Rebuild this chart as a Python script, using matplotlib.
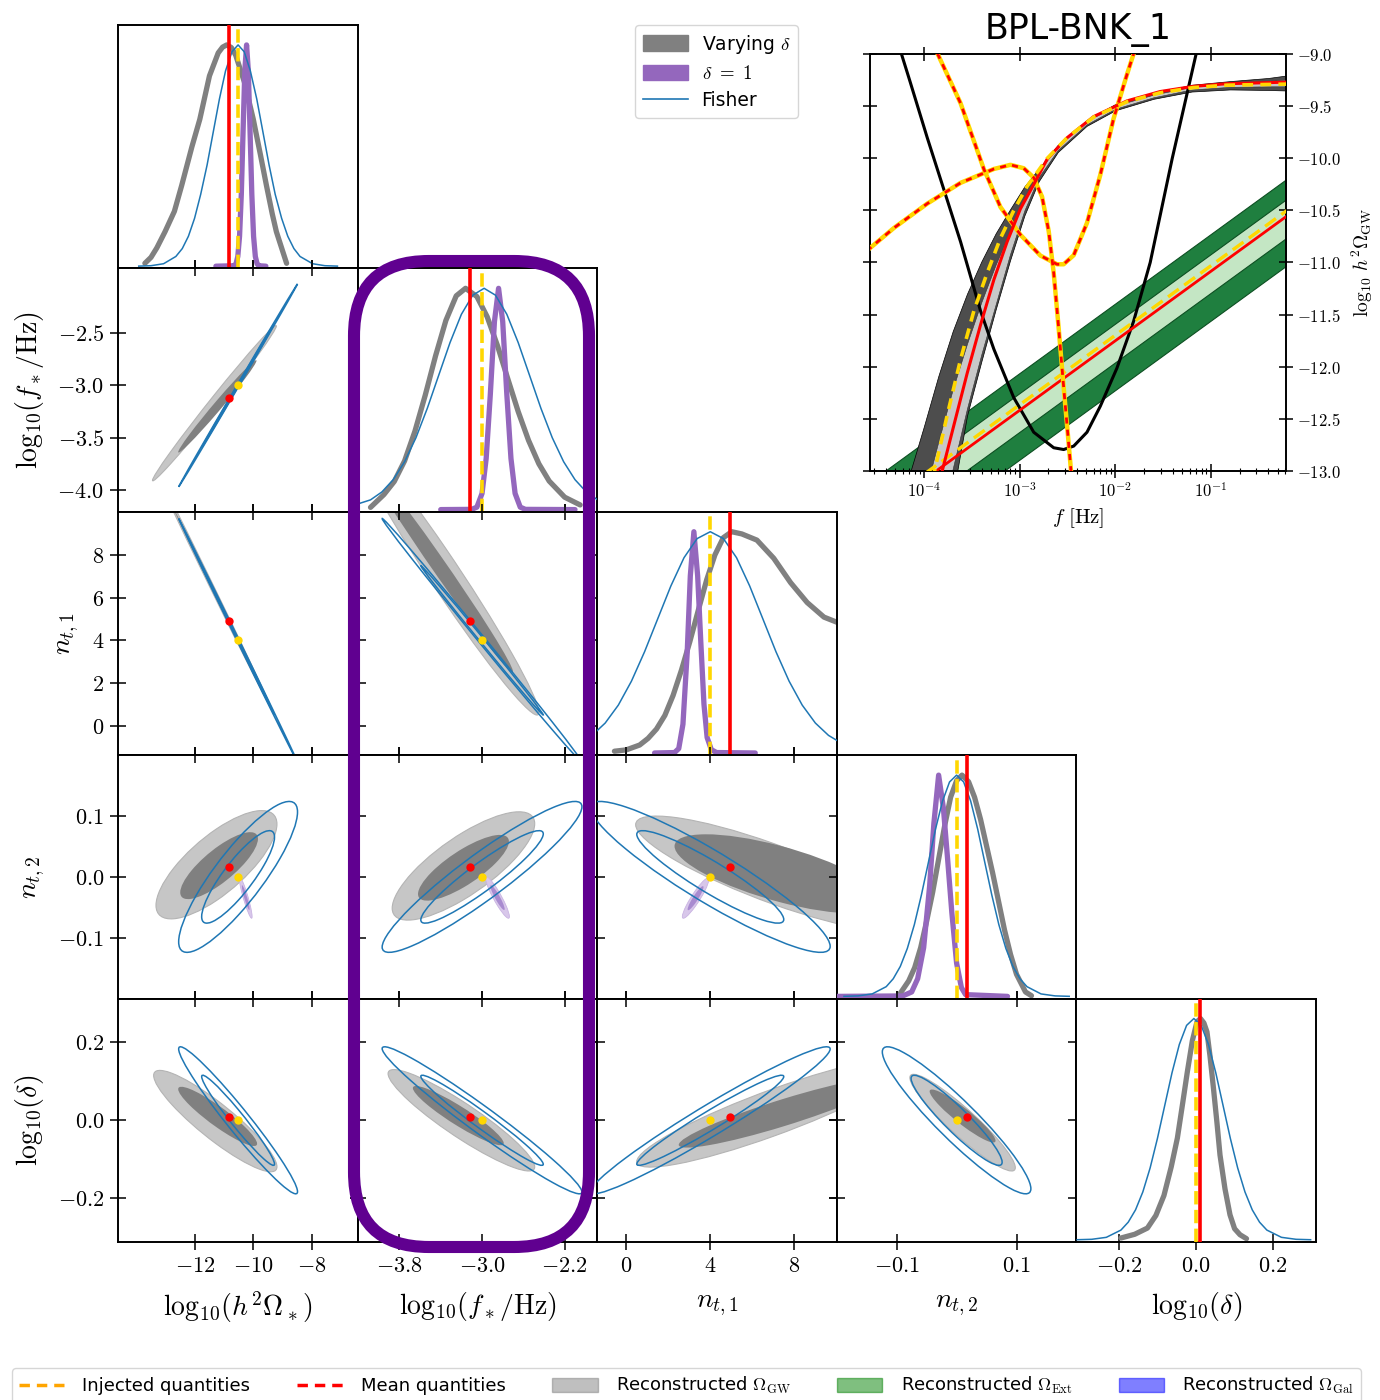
import numpy as np
import matplotlib
matplotlib.use("Agg")
import matplotlib.pyplot as plt
from matplotlib.patches import Ellipse, Patch, FancyBboxPatch
from matplotlib.lines import Line2D
from matplotlib.transforms import Affine2D, IdentityTransform
from matplotlib.ticker import FixedLocator, FormatStrFormatter, FuncFormatter, NullFormatter, LogLocator

# ======================= DATA =======================
param_labels = [r"$\mathrm{log}_{10}(h^2\Omega_*)$", r"$\mathrm{log}_{10}(f_*/{\rm Hz})$",
                r"$n_{t,1}$", r"$n_{t,2}$", r"$\mathrm{log}_{10}(\delta)$"]
param_xticks = [[-12, -10, -8], [-3.8, -3.0, -2.2], [0, 4, 8], [-0.1, 0.1], [-0.2, 0.0, 0.2]]
param_yticks = [None, [-4.0, -3.5, -3.0, -2.5], [0, 2, 4, 6, 8], [-0.1, 0.0, 0.1], [-0.2, 0.0, 0.2]]
tick_fmt = ["$%d$", "$%.1f$", "$%d$", "$%.1f$", "$%.1f$"]

injected = [-10.52, -3.0, 4.0, 0.0, 0.0]
mean_vals = [-10.84, -3.12, 4.92, 0.017, 0.009]

# Fisher forecast (per-parameter sigma, per-pair correlation)
fisher_sigma = [0.82, 0.39, 2.3, 0.050, 0.076]
pair_x = [0, 0, 1, 0, 1, 2, 0, 1, 2, 3]
pair_y = [1, 2, 2, 3, 3, 3, 4, 4, 4, 4]
fisher_rho = [0.9998, -0.9998, -0.999, 0.86, 0.93, -0.92, -0.97, -0.975, 0.97, -0.93]

# Varying-delta posterior contours (95% and 68%), per pair: centre, half-extent, correlation
post95_cx = [-11.33, -11.5, -3.35, -11.26, -3.18, 7.0, -11.3, -3.2, 7.0, 0.01]
post95_cy = [-3.17, 6.74, 7.0, 0.02, 0.018, 0.005, -0.002, 0.0, 0.02, -0.006]
post95_hx = [2.12, 2.0, 0.9, 2.07, 0.69, 6.55, 2.11, 0.71, 6.5, 0.088]
post95_hy = [0.74, 5.6, 6.5, 0.089, 0.089, 0.095, 0.13, 0.13, 0.14, 0.124]
post95_rho = [0.994, -0.9993, -0.98, 0.75, 0.78, -0.85, -0.9, -0.92, 0.9, -0.93]

post68_cx = [-11.23, -11.3, -3.42, -11.17, -3.18, 7.3, -11.22, -3.23, 7.5, 0.01]
post68_cy = [-3.2, 6.18, 7.5, 0.0185, 0.015, 0.005, 0.01, 0.012, 0.02, 0.011]
post68_hx = [1.34, 1.4, 0.72, 1.33, 0.44, 5.0, 1.35, 0.44, 5.0, 0.055]
post68_hy = [0.44, 3.9, 5.0, 0.055, 0.054, 0.065, 0.076, 0.076, 0.09, 0.068]
post68_rho = [0.99, -0.9995, -0.993, 0.8, 0.8, -0.7, -0.92, -0.93, 0.92, -0.93]

# delta = 1 posterior contours (only n_t,2 row)
d1_pair_x = [0, 1, 2]
d1_cx = [-10.26, -2.85, 3.3]
d1_cy = [-0.034, -0.034, -0.035]
d1_hx = [0.22, 0.115, 0.63]
d1_hy = [0.034, 0.034, 0.033]
d1_rho = [-0.92, -0.92, 0.92]

# 1D marginals (heights relative to peak)
fisher_profile = [0.0003, 0.0022, 0.0111, 0.0439, 0.0796, 0.1353, 0.2163, 0.3247, 0.4578, 0.6065,
                  0.7548, 0.8825, 0.969, 1.0, 0.969, 0.8825, 0.7548, 0.6065, 0.4578, 0.3247,
                  0.2163, 0.1353, 0.0796, 0.0439, 0.0111, 0.0022, 0.0003]

fisher0_x = [-13.92, -13.50, -13.07, -12.65, -12.43, -12.22, -12.01, -11.80, -11.58, -11.37, -11.16, -10.95, -10.73,
             -10.52, -10.31, -10.10, -9.88, -9.67, -9.46, -9.25, -9.03, -8.82, -8.61, -8.40, -7.97, -7.55, -7.12]
fisher1_x = [-4.74, -4.52, -4.30, -4.08, -3.97, -3.86, -3.75, -3.64, -3.53, -3.42, -3.31, -3.20, -3.09,
             -2.98, -2.87, -2.76, -2.65, -2.54, -2.43, -2.32, -2.21, -2.10, -1.99, -1.88, -1.66, -1.44, -1.22]
fisher2_x = [-6.0, -4.75, -3.5, -2.25, -1.625, -1.0, -0.375, 0.25, 0.875, 1.5, 2.125, 2.75, 3.375,
             4.0, 4.625, 5.25, 5.875, 6.5, 7.125, 7.75, 8.375, 9.0, 9.625, 10.25, 11.5, 12.75, 14.0]
fisher3_x = [-0.188, -0.1645, -0.141, -0.1175, -0.1058, -0.094, -0.0823, -0.0705, -0.0588, -0.047, -0.0353, -0.0235, -0.0118,
             0.0, 0.0118, 0.0235, 0.0353, 0.047, 0.0588, 0.0705, 0.0823, 0.094, 0.1058, 0.1175, 0.141, 0.1645, 0.188]
fisher4_x = [-0.310, -0.272, -0.234, -0.196, -0.177, -0.158, -0.139, -0.120, -0.101, -0.082, -0.063, -0.044, -0.025,
             -0.006, 0.013, 0.032, 0.051, 0.070, 0.089, 0.108, 0.127, 0.146, 0.165, 0.184, 0.222, 0.260, 0.298]

vary0_x = [-13.71, -13.5, -13.3, -13.02, -12.7, -12.45, -12.1, -11.83, -11.5, -11.2, -11.05, -10.91, -10.75, -10.6,
           -10.3, -10.0, -9.75, -9.55, -9.35, -9.21, -9.0, -8.86]
vary0_y = [0.013, 0.04, 0.083, 0.156, 0.248, 0.365, 0.54, 0.664, 0.86, 0.964, 0.99, 1.0, 0.988, 0.953,
           0.83, 0.664, 0.50, 0.365, 0.236, 0.156, 0.07, 0.013]
vary1_x = [-4.08, -3.95, -3.85, -3.75, -3.65, -3.55, -3.45, -3.35, -3.25, -3.16, -3.05, -2.95, -2.85, -2.75, -2.65, -2.55, -2.45, -2.35, -2.2, -2.05]
vary1_y = [0.01, 0.068, 0.127, 0.22, 0.354, 0.517, 0.695, 0.855, 0.966, 1.0, 0.963, 0.871, 0.74, 0.59, 0.443, 0.313, 0.207, 0.129, 0.056, 0.021]
vary2_x = [-0.56, 0.0, 0.64, 1.04, 1.44, 1.84, 2.23, 2.63, 3.03, 3.43, 3.83, 4.22, 4.62, 5.02, 5.5, 6.22, 7.02, 7.82, 8.61, 9.41, 10.05]
vary2_y = [0.008, 0.014, 0.036, 0.066, 0.108, 0.17, 0.26, 0.375, 0.504, 0.645, 0.783, 0.895, 0.973, 1.0, 0.99, 0.962, 0.88, 0.77, 0.68, 0.614, 0.59]
vary3_x = [-0.095, -0.08, -0.07, -0.06, -0.05, -0.04, -0.03, -0.02, -0.01, 0.0, 0.009, 0.02, 0.03, 0.04, 0.05, 0.06, 0.07, 0.08, 0.09, 0.10, 0.115, 0.125]
vary3_y = [0.01, 0.07, 0.13, 0.22, 0.34, 0.47, 0.62, 0.77, 0.90, 0.975, 1.0, 0.97, 0.90, 0.80, 0.68, 0.56, 0.43, 0.30, 0.19, 0.10, 0.02, 0.003]
vary4_x = [-0.196, -0.16, -0.127, -0.105, -0.084, -0.065, -0.049, -0.035, -0.023, -0.01, 0.002, 0.011, 0.02,
           0.028, 0.036, 0.045, 0.054, 0.062, 0.075, 0.088, 0.1, 0.114, 0.131]
vary4_y = [0.008, 0.025, 0.053, 0.11, 0.2, 0.33, 0.46, 0.62, 0.76, 0.9, 0.985, 1.0, 0.98,
           0.94, 0.83, 0.684, 0.53, 0.383, 0.23, 0.113, 0.05, 0.023, 0.005]

delta1_0_x = [-11.28, -10.65, -10.59, -10.53, -10.47, -10.41, -10.35, -10.29, -10.23, -10.17, -10.11, -10.05, -9.99, -9.93, -9.87, -9.81, -9.57]
delta1_0_y = [0, 0.002, 0.011, 0.044, 0.135, 0.325, 0.607, 0.883, 1.0, 0.883, 0.607, 0.325, 0.135, 0.044, 0.011, 0.002, 0]
delta1_1_x = [-3.4, -3.1, -3.05, -3.0, -2.96, -2.92, -2.88, -2.84, -2.80, -2.76, -2.72, -2.68, -2.63, -2.58, -2.1]
delta1_1_y = [0, 0.001, 0.011, 0.073, 0.231, 0.52, 0.85, 1.0, 0.85, 0.52, 0.231, 0.073, 0.011, 0.001, 0]
delta1_2_x = [1.35, 2.3, 2.5, 2.7, 2.9, 3.05, 3.22, 3.4, 3.55, 3.7, 3.85, 4.05, 4.3, 6.14]
delta1_2_y = [0, 0.002, 0.02, 0.13, 0.45, 0.8, 1.0, 0.8, 0.5, 0.22, 0.07, 0.015, 0.002, 0]
delta1_3_x = [-0.2, -0.09, -0.075, -0.065, -0.055, -0.045, -0.038, -0.03, -0.022, -0.015, -0.008, 0.0, 0.008, 0.015, 0.085]
delta1_3_y = [0, 0.002, 0.02, 0.08, 0.22, 0.5, 0.78, 1.0, 0.85, 0.62, 0.38, 0.15, 0.04, 0.008, 0]

# ---- inset spectrum (log10 f, log10 h^2 Omega) ----
sens_a_logf = [-4.278, -4.15, -3.965, -3.756, -3.617, -3.408, -3.269, -3.061, -2.852, -2.643, -2.539, -2.434,
               -2.295, -2.156, -1.982, -1.808, -1.634, -1.404, -1.154, -1.077]
sens_a_logO = [-8.874, -9.25, -9.804, -10.402, -10.801, -11.465, -11.831, -12.296, -12.628, -12.777, -12.794, -12.761,
               -12.628, -12.379, -12.013, -11.565, -11.0, -10.003, -9.0, -8.774]
curve_c_logf = [-3.90, -3.861, -3.617, -3.374, -3.2, -2.991, -2.782, -2.608, -2.539, -2.434, -2.295, -2.156, -2.017, -1.878, -1.756, -1.72]
curve_c_logO = [-8.88, -8.99, -9.472, -10.103, -10.468, -10.734, -10.934, -11.017, -11.017, -10.93, -10.62, -10.16, -9.62, -9.2, -8.85, -8.75]
curve_d_logf = [-4.6, -4.313, -3.965, -3.617, -3.269, -3.095, -2.956, -2.852, -2.765, -2.695, -2.643, -2.591, -2.539, -2.497, -2.462, -2.44]
curve_d_logO = [-10.89, -10.668, -10.435, -10.236, -10.103, -10.063, -10.096, -10.186, -10.369, -10.701, -11.1, -11.631, -12.196, -12.628, -13.0, -13.3]
sig_inj_logf = [-3.95, -3.889, -3.756, -3.617, -3.478, -3.339, -3.2, -3.061, -2.921, -2.713, -2.504, -2.225, -1.878, -1.530, -1.182, -0.834, -0.214]
sig_inj_logO = [-13.25, -13.0, -12.462, -11.930, -11.465, -11.1, -10.767, -10.502, -10.269, -10.003, -9.804, -9.605, -9.458, -9.372, -9.322, -9.299, -9.289]
sig_mean_logf = [-3.85, -3.809, -3.687, -3.548, -3.408, -3.269, -3.130, -2.991, -2.852, -2.713, -2.504, -2.225, -1.878, -1.530, -1.182, -0.834, -0.214]
sig_mean_logO = [-13.15, -13.0, -12.561, -12.063, -11.598, -11.166, -10.801, -10.485, -10.252, -10.01, -9.804, -9.60, -9.45, -9.36, -9.31, -9.285, -9.27]
band_logf = [-4.15, -4.0, -3.85, -3.7, -3.55, -3.4, -3.25, -3.1, -2.95, -2.8, -2.6, -2.3, -2.0, -1.6, -1.2, -0.8, -0.4, -0.2]
band_hi95 = [-13.03, -12.57, -12.09, -11.66, -11.30, -10.99, -10.72, -10.49, -10.27, -10.10, -9.87, -9.635, -9.48, -9.375, -9.295, -9.26, -9.23, -9.205]
band_hi68 = [-13.75, -13.25, -12.72, -12.22, -11.78, -11.38, -11.02, -10.70, -10.38, -10.13, -9.88, -9.645, -9.495, -9.39, -9.315, -9.28, -9.26, -9.245]
band_lo68 = [-14.9, -14.3, -13.6, -12.98, -12.40, -11.88, -11.40, -10.92, -10.50, -10.18, -9.92, -9.675, -9.525, -9.415, -9.34, -9.315, -9.31, -9.31]
band_lo95 = [-15.4, -14.7, -13.95, -13.25, -12.47, -11.95, -11.45, -10.98, -10.55, -10.22, -9.94, -9.69, -9.54, -9.43, -9.36, -9.34, -9.345, -9.35]
ext_logf = [-5.0, 0.0]
ext_mean = [-13.752, -10.418]
ext_inj = [-13.699, -10.365]
ext_hi68 = [-13.586, -10.252]
ext_lo68 = [-13.958, -10.624]
ext_hi95 = [-13.394, -10.06]
ext_lo95 = [-14.224, -10.89]

# ======================= STYLE / LAYOUT =======================
plt.rcParams["mathtext.fontset"] = "cm"
plt.rcParams["font.family"] = ["DejaVu Sans"]

W, H = 1380, 1400
fig = plt.figure(figsize=(W / 100, H / 100), dpi=100)
fig.patch.set_facecolor("white")

GRAY1D = "#808080"
PURPLE = "#9467bd"
BLUE = "#1f77b4"
RED = "#ff0000"
GOLD = "#ffd700"

lims = [(-14.63, -6.43), (-4.205, -1.885), (-1.38, 10.02), (-0.2, 0.2), (-0.312, 0.312)]
col_x0, col_w = 118.0, 239.6
row_y0, row_h = 25.0, 243.4
K68, K95 = 1.52, 2.48


def add_cov_ellipse(ax, cx, cy, hx, hy, rho, **kw):
    e = Ellipse((0, 0), 2, 2, **kw)
    m = np.array([[hx, 0.0, cx], [hy * rho, hy * np.sqrt(1 - rho ** 2), cy], [0, 0, 1]])
    e.set_transform(Affine2D(m) + ax.transData)
    ax.add_patch(e)


axes = {}
for i in range(5):
    for j in range(i + 1):
        left = col_x0 + j * col_w
        top = row_y0 + i * row_h
        ax = fig.add_axes([left / W, 1 - (top + row_h) / H, col_w / W, row_h / H])
        ax.set_autoscale_on(False)
        for s in ax.spines.values():
            s.set_linewidth(1.4)
        axes[(i, j)] = ax

# ---- 1D panels ----
vary_x = [vary0_x, vary1_x, vary2_x, vary3_x, vary4_x]
vary_y = [vary0_y, vary1_y, vary2_y, vary3_y, vary4_y]
fish_x = [fisher0_x, fisher1_x, fisher2_x, fisher3_x, fisher4_x]
d1_x = [delta1_0_x, delta1_1_x, delta1_2_x, delta1_3_x, None]
d1_y = [delta1_0_y, delta1_1_y, delta1_2_y, delta1_3_y, None]

for k in range(5):
    ax = axes[(k, k)]
    ax.plot(vary_x[k], vary_y[k], color=GRAY1D, lw=3.8, solid_capstyle="round", solid_joinstyle="round", zorder=2)
    if d1_x[k] is not None:
        ax.plot(d1_x[k], d1_y[k], color=PURPLE, lw=3.8, solid_capstyle="round", solid_joinstyle="round", zorder=3)
    ax.plot(fish_x[k], fisher_profile, color=BLUE, lw=1.1, zorder=4)
    ax.axvline(mean_vals[k], color=RED, lw=2.6, zorder=5)
    ax.axvline(injected[k], color=GOLD, lw=2.6, dashes=(3.7, 1.5), zorder=6)
    ax.set_xlim(lims[k])
    ax.set_ylim(-0.01, 1.09)
    ax.xaxis.set_major_locator(FixedLocator(param_xticks[k]))
    ax.xaxis.set_major_formatter(FormatStrFormatter(tick_fmt[k]))
    ax.set_yticks([])
    ax.tick_params(axis="x", direction="inout", length=12, width=1.1, top=False, bottom=True,
                   labelbottom=(k == 4), labelsize=16, pad=4)

# ---- 2D panels ----
for p in range(len(pair_x)):
    a, b = pair_x[p], pair_y[p]
    ax = axes[(b, a)]
    add_cov_ellipse(ax, post95_cx[p], post95_cy[p], post95_hx[p], post95_hy[p], post95_rho[p],
                    facecolor="#c6c6c6", edgecolor="#b4b4b4", lw=0.8, zorder=1)
    add_cov_ellipse(ax, post68_cx[p], post68_cy[p], post68_hx[p], post68_hy[p], post68_rho[p],
                    facecolor="#808080", edgecolor="none", zorder=1.5)
    for kk in (K68, K95):
        add_cov_ellipse(ax, injected[a], injected[b], kk * fisher_sigma[a], kk * fisher_sigma[b], fisher_rho[p],
                        facecolor="none", edgecolor=BLUE, lw=1.1, zorder=3)

for q in range(len(d1_pair_x)):
    ax = axes[(3, d1_pair_x[q])]
    add_cov_ellipse(ax, d1_cx[q], d1_cy[q], d1_hx[q], d1_hy[q], d1_rho[q],
                    facecolor="#d8c7ea", edgecolor="#c9b3e2", lw=0.6, zorder=2)
    add_cov_ellipse(ax, d1_cx[q], d1_cy[q], 0.6 * d1_hx[q], 0.6 * d1_hy[q], d1_rho[q],
                    facecolor="#a98bd0", edgecolor="none", zorder=2.1)

for i in range(1, 5):
    for j in range(i):
        ax = axes[(i, j)]
        ax.plot([mean_vals[j]], [mean_vals[i]], "o", color=RED, ms=6, mec="none", zorder=5)
        ax.plot([injected[j]], [injected[i]], "o", color=GOLD, ms=6, mec="none", zorder=6)
        ax.set_xlim(lims[j])
        ax.set_ylim(lims[i])
        ax.xaxis.set_major_locator(FixedLocator(param_xticks[j]))
        ax.yaxis.set_major_locator(FixedLocator(param_yticks[i]))
        ax.xaxis.set_major_formatter(FormatStrFormatter(tick_fmt[j]))
        ax.yaxis.set_major_formatter(FormatStrFormatter(tick_fmt[i]))
        ax.tick_params(axis="both", direction="inout", length=12, width=1.1,
                       top=True, right=True, bottom=True, left=True,
                       labelbottom=(i == 4), labelleft=(j == 0), labelsize=16, pad=4)

for j in range(5):
    axes[(4, j)].set_xlabel(param_labels[j], fontsize=20, labelpad=10)
for i in range(1, 5):
    axes[(i, 0)].set_ylabel(param_labels[i], fontsize=20, labelpad=8)

# ---- inset ----
axi = fig.add_axes([870 / W, 1 - 471 / H, 416 / W, 417 / H])
for s in axi.spines.values():
    s.set_linewidth(1.4)
axi.set_xscale("log")


def tf(v):
    return 10.0 ** np.asarray(v, dtype=float)


axi.fill_between(tf(ext_logf), ext_lo95, ext_hi95, facecolor="#1f7f3f", edgecolor="#0d4f22", lw=0.8, zorder=1)
axi.fill_between(tf(ext_logf), ext_lo68, ext_hi68, facecolor="#c4e6c4", edgecolor="#0d4f22", lw=0.8, zorder=1.1)
axi.fill_between(tf(band_logf), band_lo95, band_hi95, facecolor="#4d4d4d", edgecolor="black", lw=0.5, zorder=2)
axi.fill_between(tf(band_logf), band_lo68, band_hi68, facecolor="#c8c8c8", edgecolor="#333333", lw=0.4, zorder=2.1)
axi.plot(tf(sens_a_logf), sens_a_logO, color="black", lw=2.2, zorder=3)
axi.plot(tf(ext_logf), ext_mean, color=RED, lw=2.0, zorder=4)
axi.plot(tf(ext_logf), ext_inj, color=GOLD, lw=2.4, dashes=(4, 2), zorder=4.1)
for lf, lo in ((curve_c_logf, curve_c_logO), (curve_d_logf, curve_d_logO)):
    axi.plot(tf(lf), lo, color=GOLD, lw=3.2, zorder=4)
    axi.plot(tf(lf), lo, color=RED, lw=2.0, dashes=(2.2, 2.2), zorder=4.1)
axi.plot(tf(sig_mean_logf), sig_mean_logO, color=RED, lw=2.2, zorder=4.2)
axi.plot(tf(sig_inj_logf), sig_inj_logO, color=GOLD, lw=2.6, dashes=(3, 2), zorder=4.3)

axi.set_xlim(10 ** -4.564, 10 ** -0.214)
axi.set_ylim(-13.0, -9.0)
axi.xaxis.set_major_locator(FixedLocator([1e-4, 1e-3, 1e-2, 1e-1]))
axi.xaxis.set_major_formatter(FuncFormatter(lambda v, p: r"$10^{%d}$" % int(round(np.log10(v)))))
axi.xaxis.set_minor_locator(LogLocator(base=10, subs=np.arange(2, 10), numticks=20))
axi.xaxis.set_minor_formatter(NullFormatter())
axi.yaxis.set_major_locator(FixedLocator([-13.0, -12.5, -12.0, -11.5, -11.0, -10.5, -10.0, -9.5, -9.0]))
axi.yaxis.set_major_formatter(FormatStrFormatter("$%.1f$"))
axi.tick_params(which="major", direction="inout", length=10, width=1.1, top=True, right=True, left=True,
                bottom=True, labelleft=False, labelright=True, labelsize=12, pad=3)
axi.tick_params(which="minor", direction="inout", length=5, width=0.8, top=False, bottom=True)
axi.yaxis.set_label_position("right")
axi.set_ylabel(r"$\mathrm{log}_{10}\ h^2\Omega_{\rm GW}$", fontsize=14, labelpad=6)
axi.set_xlabel(r"$f\ [{\rm Hz}]$", fontsize=15, labelpad=4)
axi.set_title("BPL-BNK_1", fontsize=25, pad=11)

# ---- legends ----
h_top = [Patch(facecolor=GRAY1D, edgecolor=GRAY1D), Patch(facecolor=PURPLE, edgecolor=PURPLE),
         Line2D([], [], color=BLUE, lw=1.2)]
fig.legend(h_top, [r"Varying $\delta$", r"$\delta\ =\ 1$", "Fisher"], loc="upper left",
           bbox_to_anchor=(635 / W, 1 - 25 / H), borderaxespad=0, fontsize=13.5, frameon=True, fancybox=True,
           edgecolor="#cccccc", handlelength=2.4, handleheight=0.9, handletextpad=0.75,
           labelspacing=0.45, borderpad=0.4)

h_bot = [Line2D([], [], color="orange", lw=2.5, dashes=(3, 2)),
         Line2D([], [], color=RED, lw=2.5, dashes=(3, 2)),
         Patch(facecolor="gray", alpha=0.5, edgecolor="gray"),
         Patch(facecolor="green", alpha=0.5, edgecolor="green"),
         Patch(facecolor="blue", alpha=0.5, edgecolor="blue")]
fig.legend(h_bot, ["Injected quantities", "Mean quantities", r"Reconstructed $\Omega_{\rm GW}$",
                   r"Reconstructed $\Omega_{\rm Ext}$", r"Reconstructed $\Omega_{\rm Gal}$"],
           loc="upper left", bbox_to_anchor=(12 / W, 1 - 1368 / H), ncol=5, fontsize=13,
           frameon=True, fancybox=True, edgecolor="#cccccc", handlelength=2.5, handleheight=0.8,
           handletextpad=1.0, columnspacing=2.6, borderpad=0.4, borderaxespad=0)

# ---- highlight box around the f_* column ----
box = FancyBboxPatch((354, H - 1247), 235, 986, boxstyle="round,pad=0,rounding_size=75",
                     transform=IdentityTransform(), fill=False, edgecolor="#600090", lw=8.7, zorder=20)
fig.add_artist(box)

fig.savefig("out.png", dpi=100, facecolor="white")
